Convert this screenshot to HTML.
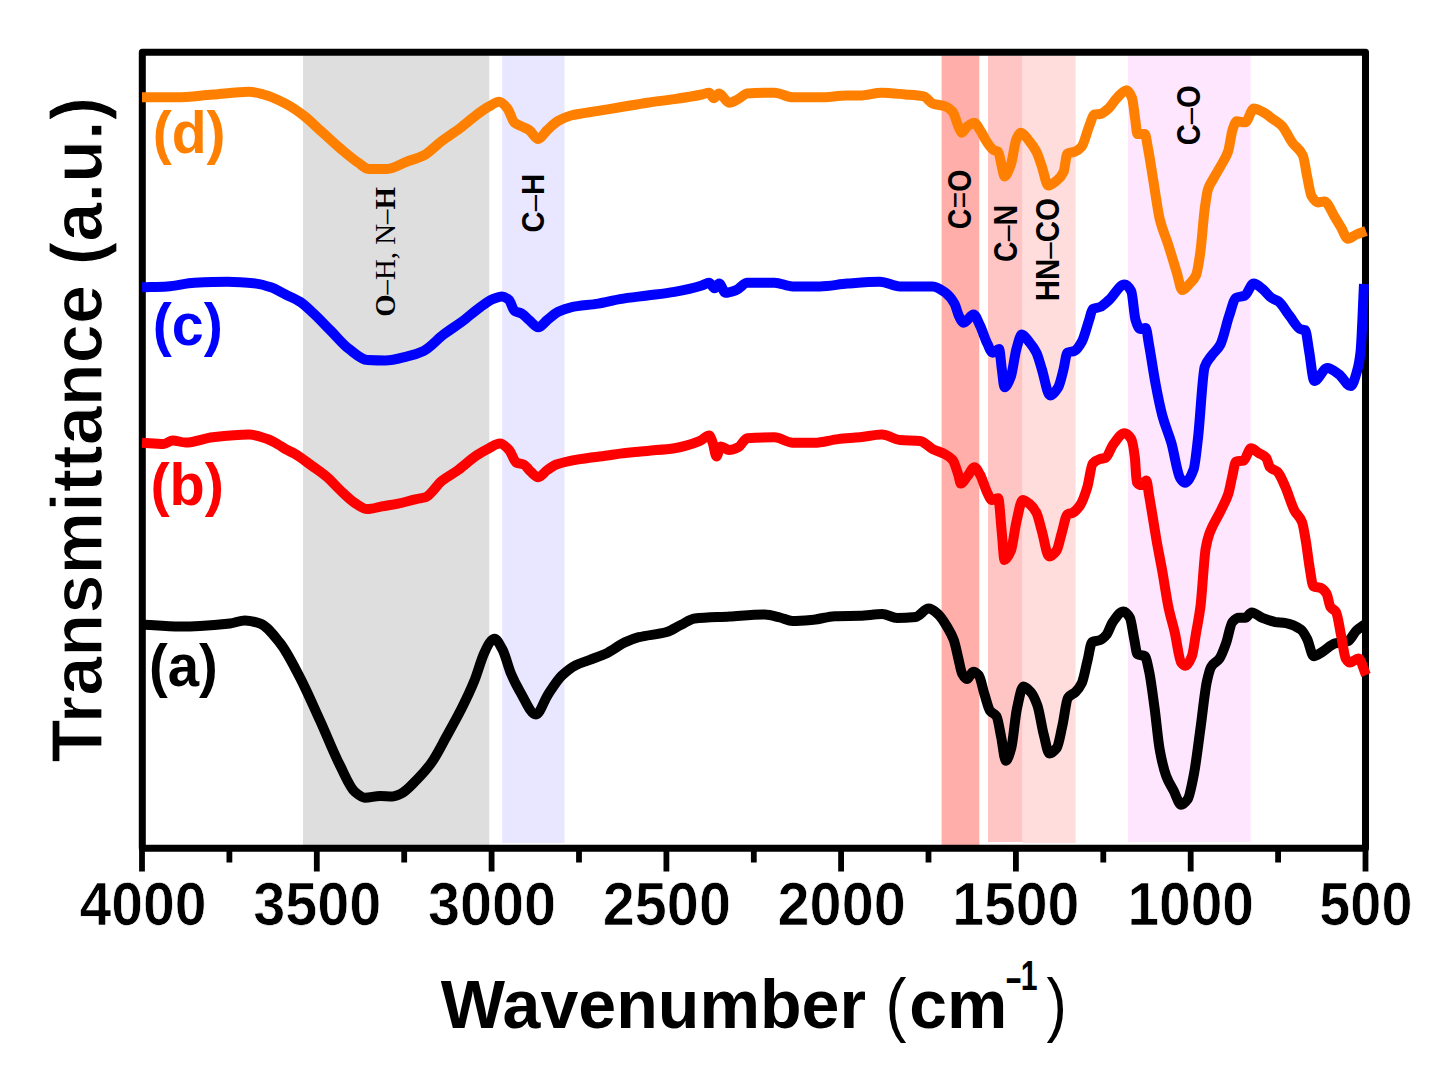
<!DOCTYPE html>
<html><head><meta charset="utf-8"><style>
html,body{margin:0;padding:0;background:#fff;}
body{width:1430px;height:1077px;overflow:hidden;font-family:"Liberation Sans",sans-serif;}
svg{display:block;}
</style></head><body>
<svg width="1430" height="1077" viewBox="0 0 1430 1077">
<rect x="0" y="0" width="1430" height="1077" fill="#ffffff"/>
<rect x="303" y="55.5" width="186.3" height="790.5" fill="#dedede"/>
<rect x="502.2" y="55.5" width="62.3" height="787.5" fill="#e8e7ff"/>
<rect x="941.6" y="55.5" width="37.7" height="789.5" fill="#ffaeaa"/>
<rect x="988" y="55.5" width="34.7" height="786.5" fill="#ffc5c5"/>
<rect x="1022.7" y="55.5" width="52.9" height="787.5" fill="#ffdddc"/>
<rect x="1128" y="55.5" width="122.6" height="786.5" fill="#ffe6ff"/>
<text transform="translate(971.10,229.15) rotate(-90) scale(0.9517,1.1150)" font-family="Liberation Sans, sans-serif" font-weight="bold" font-size="30" fill="#000">C<tspan font-weight="normal">=</tspan>O</text>
<text transform="translate(1017.00,261.95) rotate(-90) scale(0.9526,1.1100)" font-family="Liberation Sans, sans-serif" font-weight="bold" font-size="30" fill="#000">C<tspan font-weight="normal">–</tspan>N</text>
<text transform="translate(1058.80,301.27) rotate(-90) scale(0.9833,1.0800)" font-family="Liberation Sans, sans-serif" font-weight="bold" font-size="30" fill="#000">HN<tspan font-weight="normal">–</tspan>CO</text>
<text transform="translate(1200.10,145.37) rotate(-90) scale(0.9746,1.0950)" font-family="Liberation Sans, sans-serif" font-weight="bold" font-size="30" fill="#000">C<tspan font-weight="normal">–</tspan>O</text>
<text transform="translate(544.00,232.48) rotate(-90) scale(0.9772,1.0700)" font-family="Liberation Sans, sans-serif" font-weight="bold" font-size="30" fill="#000">C<tspan font-weight="normal">–</tspan>H</text>
<text transform="translate(394.72,316.82) rotate(-90) scale(0.9609,0.9696)" font-family="Liberation Serif, serif" font-size="30" fill="#000"><tspan font-weight="bold">O</tspan>–H, N–<tspan font-weight="bold">H</tspan></text>
<rect x="142.3" y="52.2" width="1223.2" height="796.1" fill="none" stroke="#000" stroke-width="7.0" stroke-linejoin="round"/>
<line x1="142.0" y1="848.3" x2="142.0" y2="871.5" stroke="#000" stroke-width="5.8" stroke-linecap="butt"/>
<line x1="229.4" y1="848.3" x2="229.4" y2="862.5" stroke="#000" stroke-width="5.8" stroke-linecap="butt"/>
<line x1="316.8" y1="848.3" x2="316.8" y2="871.5" stroke="#000" stroke-width="5.8" stroke-linecap="butt"/>
<line x1="404.2" y1="848.3" x2="404.2" y2="862.5" stroke="#000" stroke-width="5.8" stroke-linecap="butt"/>
<line x1="491.6" y1="848.3" x2="491.6" y2="871.5" stroke="#000" stroke-width="5.8" stroke-linecap="butt"/>
<line x1="579.0" y1="848.3" x2="579.0" y2="862.5" stroke="#000" stroke-width="5.8" stroke-linecap="butt"/>
<line x1="666.4" y1="848.3" x2="666.4" y2="871.5" stroke="#000" stroke-width="5.8" stroke-linecap="butt"/>
<line x1="753.8" y1="848.3" x2="753.8" y2="862.5" stroke="#000" stroke-width="5.8" stroke-linecap="butt"/>
<line x1="841.1" y1="848.3" x2="841.1" y2="871.5" stroke="#000" stroke-width="5.8" stroke-linecap="butt"/>
<line x1="928.5" y1="848.3" x2="928.5" y2="862.5" stroke="#000" stroke-width="5.8" stroke-linecap="butt"/>
<line x1="1015.9" y1="848.3" x2="1015.9" y2="871.5" stroke="#000" stroke-width="5.8" stroke-linecap="butt"/>
<line x1="1103.3" y1="848.3" x2="1103.3" y2="862.5" stroke="#000" stroke-width="5.8" stroke-linecap="butt"/>
<line x1="1190.7" y1="848.3" x2="1190.7" y2="871.5" stroke="#000" stroke-width="5.8" stroke-linecap="butt"/>
<line x1="1278.1" y1="848.3" x2="1278.1" y2="862.5" stroke="#000" stroke-width="5.8" stroke-linecap="butt"/>
<line x1="1365.5" y1="848.3" x2="1365.5" y2="871.5" stroke="#000" stroke-width="5.8" stroke-linecap="butt"/>
<text transform="translate(79.41,925.00) scale(0.9856,1.0500)" font-family="Liberation Sans, sans-serif" font-weight="bold" font-size="58" stroke="#fff" stroke-width="0.7" fill="#000">4000</text>
<text transform="translate(253.20,925.00) scale(0.9935,1.0500)" font-family="Liberation Sans, sans-serif" font-weight="bold" font-size="58" stroke="#fff" stroke-width="0.7" fill="#000">3500</text>
<text transform="translate(427.98,925.00) scale(0.9935,1.0500)" font-family="Liberation Sans, sans-serif" font-weight="bold" font-size="58" stroke="#fff" stroke-width="0.7" fill="#000">3000</text>
<text transform="translate(602.77,925.00) scale(0.9935,1.0500)" font-family="Liberation Sans, sans-serif" font-weight="bold" font-size="58" stroke="#fff" stroke-width="0.7" fill="#000">2500</text>
<text transform="translate(777.56,925.00) scale(0.9935,1.0500)" font-family="Liberation Sans, sans-serif" font-weight="bold" font-size="58" stroke="#fff" stroke-width="0.7" fill="#000">2000</text>
<text transform="translate(952.15,925.00) scale(0.9869,1.0500)" font-family="Liberation Sans, sans-serif" font-weight="bold" font-size="58" stroke="#fff" stroke-width="0.7" fill="#000">1500</text>
<text transform="translate(1127.38,925.00) scale(0.9811,1.0500)" font-family="Liberation Sans, sans-serif" font-weight="bold" font-size="58" stroke="#fff" stroke-width="0.7" fill="#000">1000</text>
<text transform="translate(1319.33,925.00) scale(0.9620,1.0500)" font-family="Liberation Sans, sans-serif" font-weight="bold" font-size="58" stroke="#fff" stroke-width="0.7" fill="#000">500</text>
<path d="M142.0,624.5 C154.7,625.2 167.3,626.5 180.0,626.5 C186.7,626.5 193.3,626.2 200.0,626.0 C210.0,625.6 220.0,624.7 230.0,623.5 C235.0,622.9 240.0,620.4 245.0,620.4 C250.0,620.4 255.0,621.8 260.0,623.5 C266.7,625.7 273.3,634.7 280.0,643.0 C286.7,651.3 293.3,664.8 300.0,677.6 C306.7,690.4 313.3,705.9 320.0,720.5 C326.7,735.1 333.3,752.3 340.0,765.4 C345.0,775.3 350.0,787.8 355.0,792.0 C358.3,794.8 361.7,797.7 365.0,797.7 C370.0,797.7 375.0,796.0 380.0,796.0 C384.1,796.0 388.2,796.5 392.3,796.5 C395.0,796.5 397.7,795.2 400.4,794.0 C405.9,791.6 411.3,785.1 416.8,779.7 C421.5,775.0 426.3,769.9 431.0,763.4 C436.5,755.9 441.9,744.6 447.4,734.8 C452.2,726.2 456.9,717.8 461.7,708.3 C465.8,700.1 469.9,691.8 474.0,681.7 C477.4,673.4 480.8,660.5 484.2,653.1 C486.3,648.5 488.4,643.5 490.5,641.5 C491.8,640.2 493.2,638.8 494.5,638.8 C497.1,638.8 499.8,644.6 502.4,649.4 C505.3,654.6 508.2,667.1 511.1,673.9 C514.0,680.7 517.0,686.4 519.9,691.4 C525.3,700.5 530.6,714.5 536.0,714.5 C539.9,714.5 543.9,700.8 547.8,694.9 C552.5,687.9 557.1,680.2 561.8,675.7 C566.5,671.2 571.1,667.5 575.8,665.2 C580.5,662.9 585.1,661.7 589.8,659.9 C595.6,657.6 601.5,655.7 607.3,652.9 C613.1,650.1 619.0,645.1 624.8,642.4 C629.4,640.3 634.1,638.4 638.7,637.2 C648.0,634.8 657.4,634.7 666.7,632.0 C671.4,630.7 676.0,627.2 680.7,625.0 C685.4,622.8 690.0,619.0 694.7,618.5 C706.4,617.2 718.0,617.2 729.7,616.5 C741.3,615.8 753.0,614.5 764.6,614.5 C769.7,614.5 774.9,616.3 780.0,617.5 C784.2,618.5 788.4,621.0 792.6,621.0 C799.6,621.0 806.6,620.3 813.6,619.7 C820.6,619.1 827.6,616.4 834.6,616.2 C843.1,615.9 851.5,616.0 860.0,615.8 C867.4,615.6 874.9,614.1 882.3,614.1 C887.2,614.1 892.2,617.9 897.1,617.9 C903.3,617.9 909.5,617.5 915.7,616.9 C920.0,616.4 924.4,608.6 928.7,608.6 C931.8,608.6 934.9,611.5 938.0,614.1 C941.1,616.7 944.2,621.9 947.3,627.1 C949.5,630.7 951.6,634.2 953.8,640.1 C955.3,644.3 956.9,652.5 958.4,658.7 C959.6,663.7 960.9,671.3 962.1,673.6 C963.7,676.5 965.2,679.1 966.8,679.1 C969.0,679.1 971.1,671.7 973.3,671.7 C975.1,671.7 977.0,673.4 978.8,675.4 C980.7,677.5 982.5,688.1 984.4,694.0 C986.3,699.9 988.1,708.2 990.0,710.7 C992.2,713.6 994.3,713.0 996.5,716.3 C998.0,718.6 999.6,729.4 1001.1,736.7 C1002.7,744.1 1004.2,760.8 1005.8,760.8 C1007.6,760.8 1009.5,754.3 1011.3,747.8 C1013.2,741.2 1015.0,717.4 1016.9,708.8 C1019.1,698.8 1021.2,686.6 1023.4,686.6 C1025.9,686.6 1028.3,689.4 1030.8,692.1 C1033.0,694.5 1035.1,699.1 1037.3,705.1 C1039.5,711.1 1041.6,726.5 1043.8,734.8 C1045.7,742.0 1047.5,753.4 1049.4,753.4 C1051.9,753.4 1054.3,751.0 1056.8,747.8 C1058.7,745.4 1060.5,733.8 1062.4,725.6 C1064.3,717.4 1066.1,700.2 1068.0,697.7 C1070.5,694.3 1072.9,694.6 1075.4,692.1 C1077.6,689.9 1079.7,687.4 1081.9,682.8 C1083.8,678.8 1085.6,668.1 1087.5,660.6 C1089.0,654.5 1090.6,642.7 1092.1,642.0 C1094.7,640.8 1097.4,641.2 1100.0,640.2 C1102.1,639.4 1104.3,637.4 1106.4,634.9 C1108.5,632.4 1110.7,624.9 1112.8,622.0 C1116.4,617.1 1119.9,611.4 1123.5,611.4 C1125.6,611.4 1127.8,614.1 1129.9,617.8 C1131.3,620.3 1132.8,632.2 1134.2,639.1 C1135.3,644.2 1136.3,653.5 1137.4,654.1 C1139.9,655.6 1142.4,654.8 1144.9,656.2 C1146.3,657.0 1147.7,664.8 1149.1,671.2 C1150.9,679.5 1152.7,694.3 1154.5,707.5 C1156.3,720.5 1158.0,740.6 1159.8,750.2 C1161.9,761.8 1164.1,770.2 1166.2,775.9 C1168.7,782.6 1171.2,786.0 1173.7,790.8 C1176.2,795.6 1178.7,804.7 1181.2,804.7 C1183.3,804.7 1185.5,802.3 1187.6,799.4 C1189.7,796.5 1191.9,784.6 1194.0,773.7 C1196.1,762.8 1198.3,744.2 1200.4,728.9 C1202.5,713.6 1204.7,691.8 1206.8,681.9 C1208.2,675.3 1209.7,669.3 1211.1,666.9 C1213.9,662.2 1216.8,662.4 1219.6,658.4 C1221.7,655.4 1223.9,649.3 1226.0,643.4 C1228.1,637.5 1230.3,624.3 1232.4,622.0 C1234.6,619.6 1236.7,617.8 1238.9,617.8 C1241.0,617.8 1243.2,617.8 1245.3,617.8 C1247.4,617.8 1249.6,612.4 1251.7,612.4 C1255.3,612.4 1258.8,616.4 1262.4,617.8 C1266.7,619.5 1270.9,621.3 1275.2,622.0 C1278.8,622.5 1282.3,622.5 1285.9,623.1 C1290.9,623.9 1295.8,625.9 1300.8,629.5 C1302.9,631.0 1305.1,635.0 1307.2,639.1 C1309.3,643.2 1311.5,656.2 1313.6,656.2 C1316.5,656.2 1319.3,653.6 1322.2,652.0 C1326.5,649.6 1330.7,644.5 1335.0,643.4 C1339.3,642.3 1343.5,642.6 1347.8,641.3 C1350.7,640.4 1353.5,633.3 1356.4,630.6 C1359.6,627.6 1362.8,625.9 1366.0,623.5" fill="none" stroke="#000000" stroke-width="10.0" stroke-linejoin="round" stroke-linecap="butt"/>
<path d="M142.0,442.7 C149.2,443.1 156.4,444.0 163.6,444.0 C166.6,444.0 169.7,440.5 172.7,440.5 C177.0,440.5 181.2,442.5 185.5,442.5 C194.6,442.5 203.6,438.3 212.7,437.3 C224.8,435.9 237.0,434.5 249.1,434.5 C255.2,434.5 261.2,437.0 267.3,439.1 C270.9,440.4 274.6,442.5 278.2,444.5 C280.6,445.9 283.1,447.7 285.5,449.1 C288.5,450.8 291.5,451.9 294.5,453.6 C300.6,457.1 306.6,462.0 312.7,466.4 C317.6,469.9 322.4,473.1 327.3,477.3 C331.5,480.9 335.8,486.0 340.0,490.0 C344.8,494.5 349.7,499.6 354.5,502.7 C358.8,505.4 363.0,509.1 367.3,509.1 C372.1,509.1 377.0,507.3 381.8,506.4 C387.3,505.4 392.7,504.7 398.2,503.6 C404.3,502.4 410.3,500.4 416.4,499.1 C419.4,498.4 422.5,498.2 425.5,497.3 C430.9,495.6 436.4,485.3 441.8,480.9 C447.3,476.5 452.7,474.0 458.2,470.0 C464.3,465.6 470.3,459.5 476.4,455.5 C480.6,452.7 484.9,450.3 489.1,448.2 C492.7,446.4 496.4,443.6 500.0,443.6 C503.0,443.6 506.1,446.9 509.1,450.0 C511.5,452.5 514.0,461.6 516.4,462.7 C518.8,463.7 521.2,463.5 523.6,464.5 C526.0,465.5 528.5,469.7 530.9,471.8 C533.3,473.9 535.8,477.3 538.2,477.3 C541.2,477.3 544.3,472.1 547.3,470.0 C550.3,467.9 553.4,465.6 556.4,464.5 C564.3,461.7 572.1,460.4 580.0,459.1 C589.1,457.6 598.2,456.8 607.3,455.5 C611.5,454.9 615.8,454.1 620.0,453.6 C629.1,452.5 638.2,451.8 647.3,450.9 C656.4,450.0 665.4,449.5 674.5,448.2 C683.0,446.9 691.5,444.4 700.0,440.9 C703.0,439.7 706.1,435.5 709.1,435.5 C710.3,435.5 711.5,439.6 712.7,442.7 C713.9,445.9 715.2,456.4 716.4,456.4 C717.9,456.4 719.4,446.4 720.9,446.4 C723.6,446.4 726.4,450.0 729.1,450.0 C732.1,450.0 735.2,448.7 738.2,447.3 C741.2,445.9 744.3,438.4 747.3,438.2 C756.4,437.5 765.4,437.3 774.5,437.3 C780.6,437.3 786.6,442.7 792.7,442.7 C800.0,442.7 807.2,442.7 814.5,442.7 C822.4,442.7 830.3,439.9 838.2,439.1 C845.5,438.3 852.7,438.0 860.0,437.3 C867.3,436.6 874.5,434.5 881.8,434.5 C887.9,434.5 893.9,439.5 900.0,440.0 C906.7,440.5 913.3,440.3 920.0,440.9 C924.2,441.3 928.5,446.9 932.7,449.1 C937.0,451.3 941.2,452.1 945.5,454.5 C947.9,455.8 950.3,457.1 952.7,460.0 C954.5,462.2 956.4,469.0 958.2,474.5 C959.1,477.2 960.0,483.6 960.9,483.6 C963.0,483.6 965.2,478.9 967.3,476.4 C969.7,473.5 972.1,467.3 974.5,467.3 C976.3,467.3 978.2,471.4 980.0,474.5 C982.4,478.6 984.9,488.0 987.3,492.7 C988.8,495.6 990.3,500.0 991.8,500.0 C993.9,500.0 996.1,498.2 998.2,498.2 C999.4,498.2 1000.6,520.9 1001.8,532.7 C1002.7,541.6 1003.6,560.0 1004.5,560.0 C1006.6,560.0 1008.8,555.8 1010.9,550.9 C1012.7,546.7 1014.6,529.5 1016.4,521.8 C1018.5,513.0 1020.6,500.0 1022.7,500.0 C1024.8,500.0 1027.0,502.0 1029.1,503.6 C1031.5,505.5 1034.0,508.2 1036.4,512.7 C1038.2,516.1 1040.0,524.7 1041.8,530.9 C1044.2,539.2 1046.7,556.4 1049.1,556.4 C1051.5,556.4 1054.0,554.0 1056.4,550.9 C1058.2,548.6 1060.0,538.7 1061.8,532.7 C1063.6,526.6 1065.5,515.6 1067.3,514.5 C1069.1,513.4 1070.9,513.6 1072.7,512.7 C1075.1,511.5 1077.6,508.9 1080.0,505.5 C1082.4,502.1 1084.9,495.1 1087.3,487.3 C1089.1,481.5 1090.9,465.6 1092.7,463.6 C1095.1,460.9 1097.6,459.9 1100.0,459.1 C1101.9,458.5 1103.8,458.5 1105.7,457.8 C1108.2,456.8 1110.7,447.8 1113.2,444.5 C1117.0,439.6 1120.7,433.2 1124.5,433.2 C1126.7,433.2 1129.0,435.4 1131.2,438.9 C1132.4,440.8 1133.7,448.3 1134.9,457.8 C1135.5,462.7 1136.2,481.5 1136.8,482.3 C1138.4,484.3 1139.9,485.1 1141.5,485.1 C1143.1,485.1 1144.7,480.4 1146.3,480.4 C1147.2,480.4 1148.2,490.2 1149.1,495.5 C1150.4,502.7 1151.6,510.5 1152.9,518.2 C1154.1,525.6 1155.4,533.8 1156.6,540.8 C1158.5,551.7 1160.4,560.5 1162.3,571.1 C1164.3,582.5 1166.4,597.3 1168.4,607.0 C1170.5,617.2 1172.7,623.5 1174.8,632.7 C1176.9,641.9 1179.1,660.0 1181.2,662.6 C1182.6,664.4 1184.1,665.8 1185.5,665.8 C1187.6,665.8 1189.8,661.5 1191.9,656.2 C1193.3,652.8 1194.7,640.8 1196.1,632.7 C1197.5,624.4 1199.0,618.0 1200.4,607.0 C1202.2,593.4 1203.9,558.5 1205.7,548.4 C1207.0,541.2 1208.2,536.9 1209.5,533.3 C1213.3,522.7 1217.0,518.6 1220.8,510.6 C1223.3,505.2 1225.9,501.4 1228.4,493.6 C1229.7,489.7 1230.9,481.9 1232.2,476.6 C1233.5,471.3 1234.7,461.8 1236.0,461.5 C1238.5,460.9 1241.0,461.2 1243.5,460.6 C1246.0,460.0 1248.6,448.3 1251.1,448.3 C1253.6,448.3 1256.1,451.4 1258.6,453.0 C1261.1,454.6 1263.7,455.0 1266.2,457.8 C1267.4,459.1 1268.7,465.9 1269.9,467.2 C1272.4,469.9 1275.0,469.5 1277.5,471.9 C1280.0,474.2 1282.5,480.7 1285.0,486.1 C1288.2,493.0 1291.3,504.6 1294.5,510.6 C1297.0,515.3 1299.5,515.8 1302.0,522.0 C1303.3,525.1 1304.5,533.5 1305.8,540.8 C1307.1,548.1 1308.3,559.9 1309.6,567.3 C1310.9,574.7 1312.1,585.6 1313.4,586.2 C1315.9,587.5 1318.4,587.0 1320.9,588.0 C1322.8,588.8 1324.7,590.6 1326.6,593.7 C1327.9,595.7 1329.1,605.0 1330.4,606.9 C1332.3,609.7 1334.1,609.1 1336.0,612.0 C1337.8,614.8 1339.6,628.4 1341.4,637.0 C1342.8,643.9 1344.3,656.0 1345.7,658.4 C1347.1,660.7 1348.5,662.6 1349.9,662.6 C1352.8,662.6 1355.6,658.4 1358.5,658.4 C1361.0,658.4 1363.5,669.5 1366.0,675.0" fill="none" stroke="#ff0000" stroke-width="10.0" stroke-linejoin="round" stroke-linecap="butt"/>
<path d="M142.0,287.3 C150.4,287.0 158.9,286.9 167.3,286.4 C176.4,285.9 185.4,283.1 194.5,282.7 C205.4,282.2 216.4,281.8 227.3,281.8 C237.0,281.8 246.7,282.6 256.4,283.6 C261.2,284.1 266.1,285.7 270.9,287.3 C275.8,288.9 280.6,292.1 285.5,294.5 C290.3,296.9 295.2,298.7 300.0,301.8 C304.2,304.5 308.5,308.8 312.7,312.7 C318.8,318.3 324.8,324.8 330.9,330.9 C337.0,337.0 343.0,344.6 349.1,349.1 C355.2,353.6 361.2,359.7 367.3,360.0 C373.4,360.3 379.4,360.5 385.5,360.5 C392.8,360.5 400.0,358.2 407.3,356.4 C412.7,355.1 418.2,353.5 423.6,350.9 C430.3,347.8 436.9,339.5 443.6,334.5 C449.7,329.9 455.7,326.3 461.8,321.8 C467.9,317.3 473.9,311.6 480.0,307.3 C484.2,304.3 488.5,300.8 492.7,299.1 C495.7,297.9 498.8,296.4 501.8,296.4 C504.2,296.4 506.7,298.0 509.1,300.0 C510.9,301.5 512.7,309.7 514.5,310.9 C516.9,312.5 519.4,312.3 521.8,313.6 C524.2,314.9 526.7,318.0 529.1,320.0 C532.1,322.5 535.2,327.3 538.2,327.3 C541.2,327.3 544.3,322.4 547.3,320.0 C550.9,317.2 554.6,313.6 558.2,311.8 C562.4,309.7 566.7,308.2 570.9,307.3 C580.0,305.4 589.1,305.1 598.2,303.6 C605.5,302.4 612.7,300.3 620.0,299.1 C629.1,297.6 638.2,296.7 647.3,295.5 C656.4,294.3 665.4,293.4 674.5,291.8 C683.6,290.2 692.7,288.3 701.8,285.5 C704.2,284.8 706.7,282.7 709.1,282.7 C710.9,282.7 712.7,288.2 714.5,288.2 C716.0,288.2 717.6,283.6 719.1,283.6 C721.2,283.6 723.4,292.7 725.5,292.7 C729.1,292.7 732.8,291.3 736.4,290.0 C740.0,288.7 743.7,282.7 747.3,282.7 C756.4,282.7 765.4,282.7 774.5,282.7 C780.6,282.7 786.6,286.4 792.7,286.4 C801.8,286.4 810.9,286.4 820.0,286.4 C829.1,286.4 838.2,284.3 847.3,283.6 C858.2,282.8 869.1,281.8 880.0,281.8 C886.7,281.8 893.3,286.4 900.0,286.4 C910.9,286.4 921.8,286.4 932.7,286.4 C937.0,286.4 941.2,289.6 945.5,292.7 C948.5,294.9 951.5,298.3 954.5,303.6 C956.0,306.3 957.6,313.5 959.1,316.4 C960.6,319.2 962.1,322.7 963.6,322.7 C966.9,322.7 970.3,314.5 973.6,314.5 C975.7,314.5 977.9,321.2 980.0,325.5 C982.4,330.4 984.9,338.8 987.3,343.6 C989.1,347.2 990.9,352.7 992.7,352.7 C994.8,352.7 997.0,349.1 999.1,349.1 C1000.0,349.1 1000.9,362.7 1001.8,369.1 C1002.7,375.5 1003.6,387.3 1004.5,387.3 C1006.6,387.3 1008.8,381.9 1010.9,376.4 C1012.7,371.7 1014.6,355.5 1016.4,349.1 C1018.2,342.8 1020.0,334.5 1021.8,334.5 C1024.2,334.5 1026.7,338.9 1029.1,341.8 C1031.5,344.7 1034.0,347.7 1036.4,352.7 C1038.2,356.4 1040.0,363.5 1041.8,369.1 C1044.5,377.6 1047.3,395.5 1050.0,395.5 C1052.7,395.5 1055.5,391.7 1058.2,387.3 C1060.0,384.4 1061.8,376.1 1063.6,369.1 C1064.8,364.3 1066.1,353.3 1067.3,352.7 C1069.7,351.4 1072.1,351.9 1074.5,350.9 C1076.9,349.9 1079.4,346.1 1081.8,341.8 C1084.2,337.5 1086.7,327.3 1089.1,320.0 C1090.3,316.4 1091.5,309.8 1092.7,309.1 C1095.1,307.7 1097.6,308.0 1100.0,307.0 C1103.0,305.8 1105.9,302.7 1108.9,300.1 C1114.1,295.6 1119.3,284.5 1124.5,284.5 C1126.7,284.5 1129.0,287.1 1131.2,291.2 C1132.7,293.9 1134.1,315.6 1135.6,320.1 C1137.1,324.7 1138.6,329.1 1140.1,329.1 C1142.0,329.1 1143.8,327.9 1145.7,327.9 C1146.8,327.9 1147.9,338.7 1149.0,344.7 C1151.2,356.9 1153.5,373.0 1155.7,384.7 C1157.9,396.4 1160.2,407.6 1162.4,415.9 C1165.4,426.9 1168.3,432.5 1171.3,442.7 C1174.3,452.9 1177.2,473.8 1180.2,478.3 C1181.7,480.6 1183.2,482.8 1184.7,482.8 C1187.7,482.8 1190.6,477.4 1193.6,469.4 C1195.1,465.5 1196.5,450.5 1198.0,438.2 C1200.2,419.5 1202.5,373.3 1204.7,366.9 C1206.9,360.5 1209.2,359.0 1211.4,355.8 C1214.4,351.6 1217.3,350.1 1220.3,344.7 C1223.3,339.3 1226.2,324.3 1229.2,315.7 C1231.4,309.2 1233.7,299.0 1235.9,297.9 C1238.9,296.4 1241.8,296.9 1244.8,295.6 C1247.8,294.3 1250.7,283.4 1253.7,283.4 C1256.7,283.4 1259.6,286.7 1262.6,289.0 C1265.6,291.3 1268.5,296.0 1271.5,297.9 C1273.7,299.4 1276.0,299.7 1278.2,301.2 C1281.9,303.8 1285.7,311.0 1289.4,315.7 C1293.1,320.3 1296.8,327.8 1300.5,329.1 C1302.1,329.7 1303.6,329.5 1305.2,330.2 C1306.5,330.8 1307.8,343.8 1309.1,351.0 C1310.8,360.6 1312.6,381.0 1314.3,381.0 C1318.6,381.0 1323.0,367.9 1327.3,367.9 C1331.2,367.9 1335.1,371.6 1339.0,374.4 C1342.9,377.2 1346.8,386.1 1350.7,386.1 C1352.9,386.1 1355.0,378.1 1357.2,370.5 C1358.3,366.7 1359.4,361.7 1360.5,352.3 C1361.7,342.3 1362.8,306.8 1364.0,284.0" fill="none" stroke="#0000ff" stroke-width="10.0" stroke-linejoin="round" stroke-linecap="butt"/>
<path d="M142.0,97.3 C153.5,97.3 164.9,97.3 176.4,97.3 C188.5,97.3 200.6,95.4 212.7,94.5 C224.8,93.6 237.0,91.8 249.1,91.8 C253.9,91.8 258.8,93.3 263.6,94.5 C270.9,96.3 278.2,99.9 285.5,103.6 C291.5,106.7 297.6,110.9 303.6,115.5 C309.7,120.1 315.7,126.4 321.8,131.8 C327.9,137.2 333.9,143.1 340.0,148.2 C346.1,153.3 352.1,158.6 358.2,162.7 C361.8,165.1 365.5,169.1 369.1,169.1 C375.1,169.1 381.0,169.1 387.0,169.0 C393.8,168.9 400.5,164.0 407.3,161.5 C412.7,159.5 418.2,158.2 423.6,155.5 C429.7,152.5 435.7,145.4 441.8,140.9 C447.9,136.4 453.9,132.7 460.0,128.2 C466.1,123.7 472.1,118.0 478.2,113.6 C481.8,111.0 485.5,108.4 489.1,106.4 C492.4,104.6 495.8,101.8 499.1,101.8 C501.8,101.8 504.6,105.1 507.3,108.2 C509.7,110.9 512.1,120.8 514.5,122.7 C516.9,124.7 519.4,125.2 521.8,126.4 C524.2,127.6 526.7,128.4 529.1,130.0 C532.1,132.0 535.2,139.1 538.2,139.1 C541.2,139.1 544.3,132.8 547.3,130.0 C550.9,126.7 554.6,123.0 558.2,120.9 C562.4,118.5 566.7,116.6 570.9,115.5 C580.0,113.2 589.1,112.4 598.2,110.9 C605.5,109.7 612.7,108.5 620.0,107.3 C629.1,105.8 638.2,104.0 647.3,102.7 C656.4,101.4 665.4,100.4 674.5,99.1 C683.6,97.8 692.7,96.4 701.8,94.5 C704.2,94.0 706.7,92.7 709.1,92.7 C710.6,92.7 712.1,98.2 713.6,98.2 C715.4,98.2 717.3,93.6 719.1,93.6 C722.4,93.6 725.8,102.7 729.1,102.7 C732.1,102.7 735.2,100.6 738.2,99.1 C741.2,97.6 744.3,93.8 747.3,93.6 C756.4,92.9 765.4,92.7 774.5,92.7 C780.6,92.7 786.6,97.3 792.7,97.3 C801.8,97.3 810.9,97.3 820.0,97.3 C829.1,97.3 838.2,95.5 847.3,95.5 C851.5,95.5 855.8,95.5 860.0,95.5 C867.3,95.5 874.5,92.7 881.8,92.7 C889.7,92.7 897.6,93.8 905.5,94.5 C911.5,95.0 917.6,95.2 923.6,96.4 C926.6,97.0 929.7,102.5 932.7,103.6 C937.0,105.1 941.2,104.9 945.5,106.4 C947.9,107.3 950.3,109.0 952.7,111.8 C954.8,114.3 957.0,124.0 959.1,128.2 C960.0,130.0 960.9,132.7 961.8,132.7 C963.6,132.7 965.5,127.7 967.3,126.4 C969.7,124.7 972.1,122.7 974.5,122.7 C976.3,122.7 978.2,127.3 980.0,130.0 C982.4,133.6 984.9,139.3 987.3,142.7 C989.4,145.6 991.5,148.8 993.6,150.0 C995.1,150.9 996.7,150.7 998.2,151.8 C999.4,152.7 1000.6,161.8 1001.8,166.4 C1002.7,169.9 1003.6,176.4 1004.5,176.4 C1006.6,176.4 1008.8,170.2 1010.9,164.5 C1012.7,159.6 1014.6,143.0 1016.4,139.1 C1017.9,135.9 1019.4,132.7 1020.9,132.7 C1023.6,132.7 1026.4,137.6 1029.1,140.9 C1031.5,143.8 1034.0,147.1 1036.4,151.8 C1038.2,155.3 1040.0,161.3 1041.8,166.4 C1043.9,172.4 1046.1,185.5 1048.2,185.5 C1050.9,185.5 1053.7,183.0 1056.4,180.9 C1058.8,179.0 1061.2,177.0 1063.6,171.8 C1064.8,169.2 1066.1,154.2 1067.3,153.6 C1069.7,152.3 1072.1,152.7 1074.5,151.8 C1076.9,150.9 1079.4,149.2 1081.8,146.4 C1084.2,143.6 1086.7,132.3 1089.1,126.4 C1090.9,122.0 1092.7,114.8 1094.5,114.5 C1096.3,114.2 1098.2,114.3 1100.0,114.0 C1102.8,113.6 1105.7,110.9 1108.5,108.5 C1111.4,106.1 1114.2,100.6 1117.1,97.8 C1120.3,94.7 1123.5,90.3 1126.7,90.3 C1128.5,90.3 1130.2,93.4 1132.0,97.8 C1133.1,100.4 1134.1,111.9 1135.2,119.1 C1135.9,124.0 1136.7,134.1 1137.4,134.1 C1139.9,134.1 1142.4,134.1 1144.9,134.1 C1146.0,134.1 1147.0,143.4 1148.1,149.0 C1149.9,158.2 1151.6,170.4 1153.4,181.1 C1155.5,194.0 1157.7,210.8 1159.8,219.5 C1162.7,231.1 1165.5,236.2 1168.4,245.2 C1171.2,254.0 1174.1,263.8 1176.9,273.0 C1178.7,278.7 1180.4,290.0 1182.2,290.0 C1184.7,290.0 1187.2,286.2 1189.7,283.6 C1191.8,281.4 1194.0,279.8 1196.1,275.1 C1197.5,271.9 1199.0,261.7 1200.4,251.6 C1201.8,241.5 1203.3,219.5 1204.7,208.9 C1205.8,201.0 1206.8,192.9 1207.9,189.6 C1209.7,184.1 1211.4,182.3 1213.2,179.0 C1216.1,173.6 1218.9,169.4 1221.8,164.0 C1223.9,160.0 1226.1,157.5 1228.2,151.2 C1229.6,147.0 1231.1,133.9 1232.5,129.8 C1233.9,125.8 1235.3,121.3 1236.7,121.3 C1239.6,121.3 1242.4,122.3 1245.3,122.3 C1248.1,122.3 1251.0,108.5 1253.8,108.5 C1256.7,108.5 1259.5,110.3 1262.4,111.7 C1265.9,113.4 1269.5,116.6 1273.0,119.1 C1275.9,121.2 1278.7,122.6 1281.6,125.5 C1285.2,129.1 1288.7,137.7 1292.3,142.6 C1295.8,147.5 1299.4,148.0 1302.9,155.5 C1304.3,158.6 1305.8,170.1 1307.2,176.8 C1308.6,183.5 1310.1,193.6 1311.5,196.0 C1313.6,199.6 1315.8,202.4 1317.9,202.4 C1320.0,202.4 1322.2,201.4 1324.3,201.4 C1327.9,201.4 1331.4,211.7 1335.0,217.4 C1337.1,220.8 1339.3,224.5 1341.4,228.1 C1343.5,231.7 1345.7,238.8 1347.8,238.8 C1350.7,238.8 1353.5,235.7 1356.4,234.5 C1359.6,233.1 1362.8,232.2 1366.0,231.0" fill="none" stroke="#ff8000" stroke-width="10.0" stroke-linejoin="round" stroke-linecap="butt"/>
<text transform="translate(148.99,685.87) scale(0.9708,1.0111)" font-family="Liberation Sans, sans-serif" font-weight="bold" font-size="58" fill="#000000">(a)</text>
<text transform="translate(150.42,505.22) scale(0.9941,1.0315)" font-family="Liberation Sans, sans-serif" font-weight="bold" font-size="58" fill="#ff0000">(b)</text>
<text transform="translate(152.63,345.38) scale(0.9892,1.0185)" font-family="Liberation Sans, sans-serif" font-weight="bold" font-size="58" fill="#0000ff">(c)</text>
<text transform="translate(152.65,153.33) scale(0.9838,1.0056)" font-family="Liberation Sans, sans-serif" font-weight="bold" font-size="58" fill="#ff8000">(d)</text>
<text transform="translate(101.83,762.38) rotate(-90) scale(0.9785,1.0121)" font-family="Liberation Sans, sans-serif" font-weight="bold" font-size="72" stroke="#fff" stroke-width="1.2" fill="#000">Transmittance (a.u.)</text>
<text transform="translate(440.80,1027.70) scale(0.9732,0.9706)" font-family="Liberation Sans, sans-serif" font-weight="bold" font-size="70" fill="#000">Wavenumber</text>
<text transform="translate(885.60,1027.69) scale(0.9000,1.0076)" font-family="Liberation Sans, sans-serif" font-size="70" fill="#000">(</text>
<text transform="translate(909.19,1027.50) scale(0.9691,0.9892)" font-family="Liberation Sans, sans-serif" font-weight="bold" font-size="70" fill="#000">cm</text>
<text transform="translate(1004.80,990.50) scale(1.3000,1.0000)" font-family="Liberation Sans, sans-serif" font-weight="bold" font-size="41" fill="#000">-</text>
<text transform="translate(1020.79,989.50) scale(0.7368,1.0464)" font-family="Liberation Sans, sans-serif" font-weight="bold" font-size="41" fill="#000">1</text>
<text transform="translate(1046.43,1027.70) scale(0.8722,1.0136)" font-family="Liberation Sans, sans-serif" font-size="70" fill="#000">)</text>
</svg>
</body></html>
